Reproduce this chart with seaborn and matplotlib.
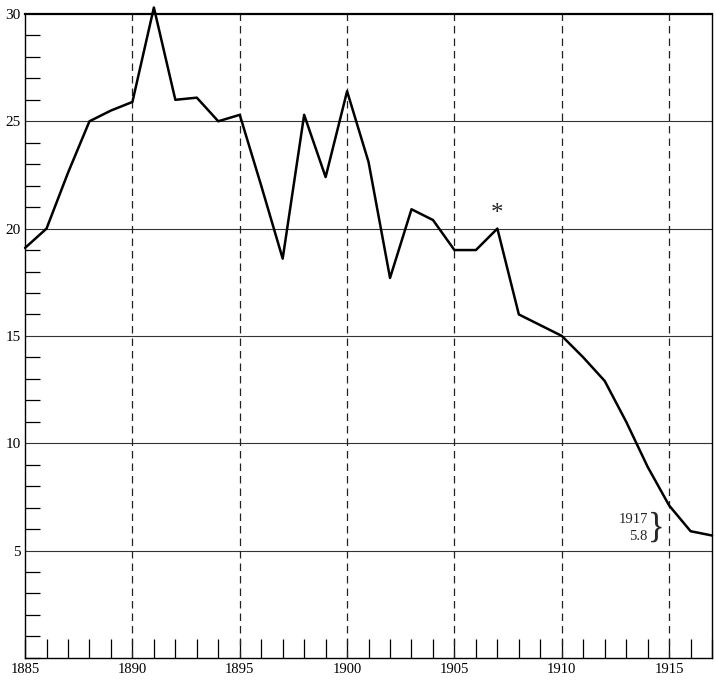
import matplotlib
matplotlib.use('Agg')
import matplotlib.pyplot as plt
import seaborn as sns
import pandas as pd
from matplotlib.ticker import MultipleLocator

# values, one per year 1885-1917
years = list(range(1885, 1918))
rates = [19.1, 20.0, 22.6, 25.0, 25.5, 25.9, 30.3, 26.0, 26.1, 25.0, 25.3,
         22.0, 18.6, 25.3, 22.4, 26.4, 23.1, 17.7, 20.9, 20.4, 19.0, 19.0,
         20.0, 16.0, 15.5, 15.0, 14.0, 12.9, 11.0, 8.9, 7.1, 5.9, 5.7]

x_labels = [1885, 1890, 1895, 1900, 1905, 1910, 1915]
y_labels = [5, 10, 15, 20, 25, 30]

df = pd.DataFrame({'year': years, 'rate': rates})

sns.set_style('white')
plt.rcParams['font.family'] = ['Liberation Serif', 'DejaVu Serif']

fig = plt.figure(figsize=(7.16, 6.81), dpi=100)
ax = fig.add_axes([0.035, 0.034, 0.9595, 0.9455])

# grid: solid horizontal, dashed vertical
for y in y_labels[:-1]:
    ax.axhline(y, color='#333333', lw=0.8, zorder=1)
for x in x_labels[1:]:
    ax.axvline(x, color='#222222', lw=0.9, ls=(0, (6, 4)), zorder=1)

sns.lineplot(data=df, x='year', y='rate', color='black', lw=1.8, ax=ax,
             clip_on=False, zorder=3)

ax.set_xlim(1885, 1917)
ax.set_ylim(0, 30)
ax.set_xlabel('')
ax.set_ylabel('')

ax.set_xticks(x_labels)
ax.set_xticklabels([str(v) for v in x_labels], fontsize=10.5)
ax.xaxis.set_minor_locator(MultipleLocator(1))
ax.set_yticks(y_labels)
ax.set_yticklabels([str(v) for v in y_labels], fontsize=11)
ax.yaxis.set_minor_locator(MultipleLocator(1))

# seaborn's white style hides ticks, switch them back on
ax.tick_params(axis='x', which='both', bottom=True, direction='in', length=14,
               width=0.9, colors='black', pad=4)
ax.tick_params(axis='y', which='both', left=True, direction='in', length=11,
               width=0.9, colors='black', pad=3)
ax.tick_params(axis='y', which='major', length=0)

for side in ['left', 'bottom', 'right']:
    ax.spines[side].set_color('black')
    ax.spines[side].set_linewidth(1.0)
ax.spines['top'].set_color('black')
ax.spines['top'].set_linewidth(1.6)

# annotations
ax.text(1907, 20.15, '*', ha='center', va='bottom', fontsize=18)
ax.text(1914.0, 6.45, '1917', ha='right', va='center', fontsize=10.5)
ax.text(1914.0, 5.65, '5.8', ha='right', va='center', fontsize=10.5)
ax.text(1914.0, 6.05, '}', ha='left', va='center', fontsize=25)

fig.savefig('out.png', dpi=100)
